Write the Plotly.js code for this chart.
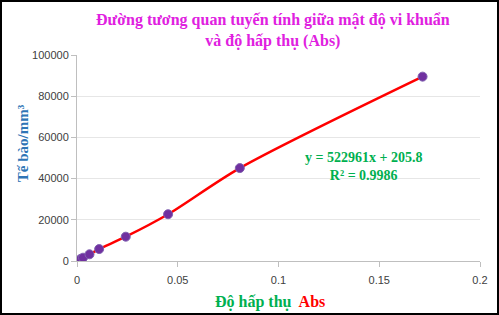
<!DOCTYPE html>
<html><head><meta charset="utf-8">
<script src="https://cdn.plot.ly/plotly-3.0.1.min.js"></script>
<style>html,body{margin:0;padding:0;background:#fff}#wrap{position:relative;width:499px;height:315px}#chart{width:499px;height:315px}#frame{position:absolute;left:0;top:0;width:499px;height:315px;box-sizing:border-box;border:2px solid #000;pointer-events:none}</style>
</head><body><div id="wrap"><div id="chart"></div><div id="frame"></div></div>
<script>
const absorbance = [0.0018, 0.003, 0.0062, 0.011, 0.0242, 0.0452, 0.0808, 0.1715];
const cellDensity = [970, 1600, 3250, 5800, 11800, 22700, 45100, 89500];
const xTicks = [0, 0.05, 0.1, 0.15, 0.2];
const xTickLabels = ['0', '0.05', '0.1', '0.15', '0.2'];
const yTicks = [0, 20000, 40000, 60000, 80000, 100000];
const yTickLabels = ['0', '20000', '40000', '60000', '80000', '100000'];
const titleText = '<b>Đường tương quan tuyến tính giữa mật độ vi khuẩn<br>và độ hấp thụ (Abs)</b>';
const yTitle = '<b>Tế bào/mm³</b>';
const xTitle = '<b><span style="color:#00B050">Độ hấp thụ</span>  <span style="color:#FF0000">Abs</span></b>';
const equation = '<b>y = 522961x + 205.8<br>R² = 0.9986</b>';
const serif = '"Liberation Serif", "Times New Roman", serif';

Plotly.newPlot('chart', [{
  x: absorbance, y: cellDensity, type: 'scatter', mode: 'lines+markers',
  line: {color: '#FF0000', width: 2.5, shape: 'spline', smoothing: 0.8},
  marker: {color: '#7030A0', size: 9, line: {color: '#8060B0', width: 1}},
  hoverinfo: 'skip'
}], {
  width: 499, height: 315,
  margin: {l: 77, r: 19, t: 55, b: 54},
  paper_bgcolor: '#fff', plot_bgcolor: '#fff',
  showlegend: false,
  xaxis: {range: [0, 0.2], tickvals: xTicks, ticktext: xTickLabels, showgrid: false,
    zeroline: false, showline: true, linecolor: '#BFBFBF', linewidth: 1,
    ticks: 'outside', ticklen: 5, tickcolor: '#BFBFBF', ticklabelstandoff: 4,
    tickfont: {family: '"Liberation Sans", Arial, sans-serif', size: 11, color: '#404040'}},
  yaxis: {range: [0, 100000], tickvals: yTicks, ticktext: yTickLabels, showgrid: true,
    gridcolor: '#E6E6E6', gridwidth: 1, zeroline: false, showline: true, linecolor: '#BFBFBF',
    ticks: 'outside', ticklen: 5, tickcolor: '#BFBFBF',
    tickfont: {family: '"Liberation Sans", Arial, sans-serif', size: 11, color: '#404040'}},
  annotations: [
    {text: titleText, xref: 'paper', yref: 'paper', x: 0.487, y: 1.117, xanchor: 'center', yanchor: 'middle',
      showarrow: false, align: 'center', font: {family: serif, size: 16, color: '#E020E0'}},
    {text: yTitle, xref: 'paper', yref: 'paper', x: -0.135, y: 0.57, xanchor: 'center', yanchor: 'middle',
      textangle: -90, showarrow: false, font: {family: serif, size: 15, color: '#2E75B6'}},
    {text: xTitle, xref: 'paper', yref: 'paper', x: 0.48, y: -0.199, xanchor: 'center', yanchor: 'middle',
      showarrow: false, font: {family: serif, size: 16}},
    {text: equation, xref: 'paper', yref: 'paper', x: 0.71, y: 0.459, xanchor: 'center', yanchor: 'middle',
      showarrow: false, align: 'center', font: {family: serif, size: 14, color: '#00B050'}}
  ]
}, {displayModeBar: false, staticPlot: true});
</script></body></html>
